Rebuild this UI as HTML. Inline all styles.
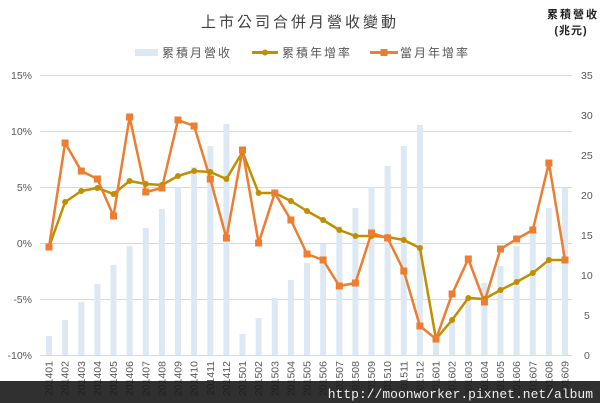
<!DOCTYPE html>
<html><head><meta charset="utf-8"><style>
body{margin:0;width:600px;height:403px;background:#fff;overflow:hidden}
svg{display:block}
text{font-family:"Liberation Sans","Noto Sans CJK TC",sans-serif}
</style></head><body>
<svg width="600" height="403" viewBox="0 0 600 403" xmlns="http://www.w3.org/2000/svg">
<defs>
<circle id="c" r="3" fill="#bf8f00"/>
<rect id="s" x="-3.5" y="-3.5" width="7" height="7" fill="#ed7d31"/>
</defs>
<text x="300" y="27" text-anchor="middle" font-size="15" fill="#404040" letter-spacing="3">上市公司合併月營收變動</text>
<text x="573" y="18" text-anchor="middle" font-size="11" fill="#222" letter-spacing="2" font-weight="bold">累積營收</text>
<text x="571" y="34" text-anchor="middle" font-size="11" fill="#222" letter-spacing="1" font-weight="bold">(兆元)</text>
<rect x="135" y="49" width="23" height="7" fill="#dce9f5"/>
<text x="162" y="57" font-size="12" fill="#595959" letter-spacing="2">累積月營收</text>
<line x1="252" y1="52.5" x2="278" y2="52.5" stroke="#bf8f00" stroke-width="3"/><use href="#c" x="265" y="52.5"/>
<text x="282" y="57" font-size="12" fill="#595959" letter-spacing="2">累積年增率</text>
<line x1="370" y1="52.5" x2="398" y2="52.5" stroke="#ed7d31" stroke-width="3"/><use href="#s" x="384" y="52.5"/>
<text x="400" y="57" font-size="12" fill="#595959" letter-spacing="2">當月年增率</text>
<g stroke="#d9d9d9" stroke-width="1">
<line x1="40" y1="75.5" x2="572" y2="75.5"/><line x1="40" y1="131.5" x2="572" y2="131.5"/><line x1="40" y1="187.5" x2="572" y2="187.5"/><line x1="40" y1="243.5" x2="572" y2="243.5"/><line x1="40" y1="299.5" x2="572" y2="299.5"/><line x1="40" y1="355.5" x2="572" y2="355.5"/>
</g>
<g font-size="10.5" fill="#595959" text-anchor="end">
<text x="32" y="79">15%</text><text x="32" y="135">10%</text><text x="32" y="191">5%</text><text x="32" y="247">0%</text><text x="32" y="303">-5%</text><text x="32" y="359">-10%</text>
</g>
<g font-size="10.5" fill="#595959">
<text x="581" y="79">35</text><text x="581" y="119">30</text><text x="581" y="159">25</text><text x="581" y="199">20</text><text x="581" y="239">15</text><text x="581" y="279">10</text><text x="584" y="319">5</text><text x="584" y="359">0</text>
</g>
<g fill="#dce9f5">
<rect x="46" y="336" width="6" height="19"/><rect x="62.1" y="320" width="6" height="35"/><rect x="78.3" y="302" width="6" height="53"/><rect x="94.4" y="284" width="6" height="71"/><rect x="110.5" y="265" width="6" height="90"/><rect x="126.6" y="246" width="6" height="109"/><rect x="142.8" y="228" width="6" height="127"/><rect x="158.9" y="209" width="6" height="146"/><rect x="175" y="188" width="6" height="167"/><rect x="191.1" y="167" width="6" height="188"/><rect x="207.3" y="146" width="6" height="209"/><rect x="223.4" y="124" width="6" height="231"/><rect x="239.5" y="334" width="6" height="21"/><rect x="255.6" y="318" width="6" height="37"/><rect x="271.8" y="298" width="6" height="57"/><rect x="287.9" y="280" width="6" height="75"/><rect x="304" y="263" width="6" height="92"/><rect x="320.1" y="244" width="6" height="111"/><rect x="336.3" y="226" width="6" height="129"/><rect x="352.4" y="208" width="6" height="147"/><rect x="368.5" y="187" width="6" height="168"/><rect x="384.6" y="166" width="6" height="189"/><rect x="400.8" y="146" width="6" height="209"/><rect x="416.9" y="125" width="6" height="230"/><rect x="433" y="336" width="6" height="19"/><rect x="449.1" y="320" width="6" height="35"/><rect x="465.3" y="300" width="6" height="55"/><rect x="481.4" y="283" width="6" height="72"/><rect x="497.5" y="266" width="6" height="89"/><rect x="513.6" y="246" width="6" height="109"/><rect x="529.8" y="227" width="6" height="128"/><rect x="545.9" y="208" width="6" height="147"/><rect x="562" y="188" width="6" height="167"/>
</g>
<polyline fill="none" stroke="#bf8f00" stroke-width="2.5" stroke-linejoin="round" points="49,247 65.1,202 81.3,191 97.4,188 113.5,194 129.6,181 145.8,184 161.9,185 178,176 194.1,171 210.3,172 226.4,179 242.5,152 258.6,193 274.8,193 290.9,201 307,211 323.1,220 339.3,230 355.4,236 371.5,236 387.6,237 403.8,240 419.9,248 436,339 452.1,320 468.3,298 484.4,299 500.5,290 516.6,282 532.8,273 548.9,260 565,260"/>
<polyline fill="none" stroke="#ed7d31" stroke-width="2.5" stroke-linejoin="round" points="49,247 65.1,143 81.3,171 97.4,179 113.5,216 129.6,117 145.8,192 161.9,188 178,120 194.1,126 210.3,179 226.4,238 242.5,150 258.6,243 274.8,193 290.9,220 307,254 323.1,260 339.3,286 355.4,283 371.5,233 387.6,238 403.8,271 419.9,326 436,339 452.1,294 468.3,259 484.4,302 500.5,249 516.6,239 532.8,230 548.9,163 565,260"/>
<g>
<use href="#c" x="49" y="247"/><use href="#c" x="65.1" y="202"/><use href="#c" x="81.3" y="191"/><use href="#c" x="97.4" y="188"/><use href="#c" x="113.5" y="194"/><use href="#c" x="129.6" y="181"/><use href="#c" x="145.8" y="184"/><use href="#c" x="161.9" y="185"/><use href="#c" x="178" y="176"/><use href="#c" x="194.1" y="171"/><use href="#c" x="210.3" y="172"/><use href="#c" x="226.4" y="179"/><use href="#c" x="242.5" y="152"/><use href="#c" x="258.6" y="193"/><use href="#c" x="274.8" y="193"/><use href="#c" x="290.9" y="201"/><use href="#c" x="307" y="211"/><use href="#c" x="323.1" y="220"/><use href="#c" x="339.3" y="230"/><use href="#c" x="355.4" y="236"/><use href="#c" x="371.5" y="236"/><use href="#c" x="387.6" y="237"/><use href="#c" x="403.8" y="240"/><use href="#c" x="419.9" y="248"/><use href="#c" x="436" y="339"/><use href="#c" x="452.1" y="320"/><use href="#c" x="468.3" y="298"/><use href="#c" x="484.4" y="299"/><use href="#c" x="500.5" y="290"/><use href="#c" x="516.6" y="282"/><use href="#c" x="532.8" y="273"/><use href="#c" x="548.9" y="260"/><use href="#c" x="565" y="260"/>
</g>
<g>
<use href="#s" x="49" y="247"/><use href="#s" x="65.1" y="143"/><use href="#s" x="81.3" y="171"/><use href="#s" x="97.4" y="179"/><use href="#s" x="113.5" y="216"/><use href="#s" x="129.6" y="117"/><use href="#s" x="145.8" y="192"/><use href="#s" x="161.9" y="188"/><use href="#s" x="178" y="120"/><use href="#s" x="194.1" y="126"/><use href="#s" x="210.3" y="179"/><use href="#s" x="226.4" y="238"/><use href="#s" x="242.5" y="150"/><use href="#s" x="258.6" y="243"/><use href="#s" x="274.8" y="193"/><use href="#s" x="290.9" y="220"/><use href="#s" x="307" y="254"/><use href="#s" x="323.1" y="260"/><use href="#s" x="339.3" y="286"/><use href="#s" x="355.4" y="283"/><use href="#s" x="371.5" y="233"/><use href="#s" x="387.6" y="238"/><use href="#s" x="403.8" y="271"/><use href="#s" x="419.9" y="326"/><use href="#s" x="436" y="339"/><use href="#s" x="452.1" y="294"/><use href="#s" x="468.3" y="259"/><use href="#s" x="484.4" y="302"/><use href="#s" x="500.5" y="249"/><use href="#s" x="516.6" y="239"/><use href="#s" x="532.8" y="230"/><use href="#s" x="548.9" y="163"/><use href="#s" x="565" y="260"/>
</g>
<g font-size="10.5" fill="#595959" text-anchor="end">
<text transform="translate(52.5,361) rotate(-90)">201401</text><text transform="translate(68.6,361) rotate(-90)">201402</text><text transform="translate(84.8,361) rotate(-90)">201403</text><text transform="translate(100.9,361) rotate(-90)">201404</text><text transform="translate(117,361) rotate(-90)">201405</text><text transform="translate(133.1,361) rotate(-90)">201406</text><text transform="translate(149.3,361) rotate(-90)">201407</text><text transform="translate(165.4,361) rotate(-90)">201408</text><text transform="translate(181.5,361) rotate(-90)">201409</text><text transform="translate(197.6,361) rotate(-90)">201410</text><text transform="translate(213.8,361) rotate(-90)">201411</text><text transform="translate(229.9,361) rotate(-90)">201412</text><text transform="translate(246,361) rotate(-90)">201501</text><text transform="translate(262.1,361) rotate(-90)">201502</text><text transform="translate(278.3,361) rotate(-90)">201503</text><text transform="translate(294.4,361) rotate(-90)">201504</text><text transform="translate(310.5,361) rotate(-90)">201505</text><text transform="translate(326.6,361) rotate(-90)">201506</text><text transform="translate(342.8,361) rotate(-90)">201507</text><text transform="translate(358.9,361) rotate(-90)">201508</text><text transform="translate(375,361) rotate(-90)">201509</text><text transform="translate(391.1,361) rotate(-90)">201510</text><text transform="translate(407.3,361) rotate(-90)">201511</text><text transform="translate(423.4,361) rotate(-90)">201512</text><text transform="translate(439.5,361) rotate(-90)">201601</text><text transform="translate(455.6,361) rotate(-90)">201602</text><text transform="translate(471.8,361) rotate(-90)">201603</text><text transform="translate(487.9,361) rotate(-90)">201604</text><text transform="translate(504,361) rotate(-90)">201605</text><text transform="translate(520.1,361) rotate(-90)">201606</text><text transform="translate(536.3,361) rotate(-90)">201607</text><text transform="translate(552.4,361) rotate(-90)">201608</text><text transform="translate(568.5,361) rotate(-90)">201609</text>
</g>
<rect x="0" y="381" width="600" height="22" fill="#1a1a1a" opacity="0.9"/>
<text x="593" y="398" text-anchor="end" style="font-family:'Liberation Mono',monospace" font-size="13" fill="#f0f0f0">http://moonworker.pixnet.net/album</text>
</svg>
</body></html>
